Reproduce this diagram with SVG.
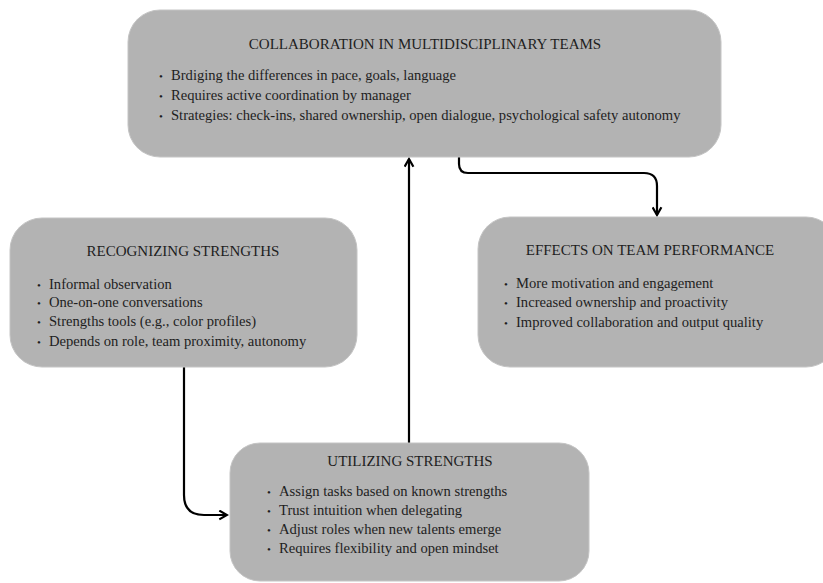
<svg xmlns="http://www.w3.org/2000/svg" width="823" height="583" viewBox="0 0 823 583">
<style>
.box{fill:#b3b3b3;stroke:#c4c4c4;stroke-width:1}
.t{font-family:"Liberation Serif","Times New Roman",serif;font-size:14.6px;fill:#1e1e1e}
.h{text-anchor:middle;font-size:15px}
.b{font-size:11px}
.c{fill:none;stroke:#000;stroke-width:2.2}
</style>
<defs>
<marker id="ah" viewBox="0 0 10 10" refX="8" refY="5" markerWidth="5" markerHeight="5" orient="auto" markerUnits="strokeWidth">
<path d="M1,1 L8,5 L1,9" fill="none" stroke="#000" stroke-width="2"/>
</marker>
</defs>
<rect width="823" height="583" fill="#fff"/>
<g id="connectors">
<path class="c" d="M459,157 V164 Q459,173 468,173 H644 Q657,173 657,186 V215" marker-end="url(#ah)"/>
<path class="c" d="M409,443 V159" marker-end="url(#ah)"/>
<path class="c" d="M184,367 V495 Q184,515 204,515 H227" marker-end="url(#ah)"/>
</g>
<g id="collaboration">
<rect class="box" x="128" y="10" width="593" height="147" rx="32"/>
<text class="t h" x="425" y="49">COLLABORATION IN MULTIDISCIPLINARY TEAMS</text>
<text class="t" y="80"><tspan class="b" x="159">•</tspan><tspan x="171">Brdiging the differences in pace, goals, language</tspan></text>
<text class="t" y="100"><tspan class="b" x="159">•</tspan><tspan x="171">Requires active coordination by manager</tspan></text>
<text class="t" y="120"><tspan class="b" x="159">•</tspan><tspan x="171">Strategies: check-ins, shared ownership, open dialogue, psychological safety autonomy</tspan></text>
</g>
<g id="recognizing">
<rect class="box" x="10" y="218" width="347" height="149" rx="32"/>
<text class="t h" x="183" y="256">RECOGNIZING STRENGTHS</text>
<text class="t" y="289"><tspan class="b" x="37">•</tspan><tspan x="49">Informal observation</tspan></text>
<text class="t" y="307"><tspan class="b" x="37">•</tspan><tspan x="49">One-on-one conversations</tspan></text>
<text class="t" y="326"><tspan class="b" x="37">•</tspan><tspan x="49">Strengths tools (e.g., color profiles)</tspan></text>
<text class="t" y="346"><tspan class="b" x="37">•</tspan><tspan x="49">Depends on role, team proximity, autonomy</tspan></text>
</g>
<g id="effects">
<rect class="box" x="478" y="217" width="360" height="150" rx="32"/>
<text class="t h" x="650" y="255">EFFECTS ON TEAM PERFORMANCE</text>
<text class="t" y="288"><tspan class="b" x="504">•</tspan><tspan x="516">More motivation and engagement</tspan></text>
<text class="t" y="307"><tspan class="b" x="504">•</tspan><tspan x="516">Increased ownership and proactivity</tspan></text>
<text class="t" y="327"><tspan class="b" x="504">•</tspan><tspan x="516">Improved collaboration and output quality</tspan></text>
</g>
<g id="utilizing">
<rect class="box" x="230" y="443" width="359" height="138" rx="30"/>
<text class="t h" x="410" y="466">UTILIZING STRENGTHS</text>
<text class="t" y="496"><tspan class="b" x="267">•</tspan><tspan x="279">Assign tasks based on known strengths</tspan></text>
<text class="t" y="515"><tspan class="b" x="267">•</tspan><tspan x="279">Trust intuition when delegating</tspan></text>
<text class="t" y="534"><tspan class="b" x="267">•</tspan><tspan x="279">Adjust roles when new talents emerge</tspan></text>
<text class="t" y="553"><tspan class="b" x="267">•</tspan><tspan x="279">Requires flexibility and open mindset</tspan></text>
</g>
</svg>
